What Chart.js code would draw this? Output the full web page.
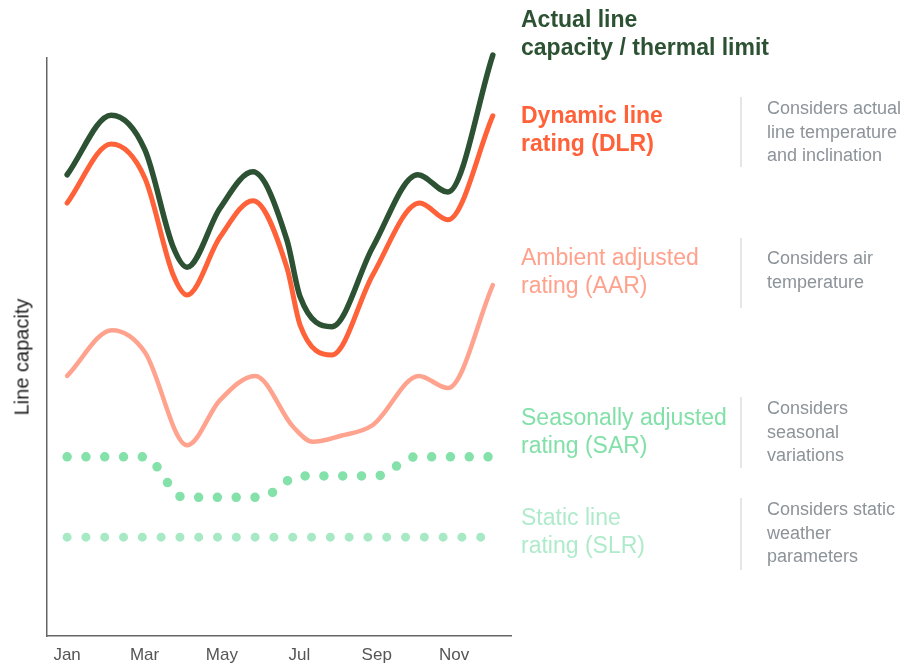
<!DOCTYPE html>
<html>
<head>
<meta charset="utf-8">
<script src="https://cdn.jsdelivr.net/npm/chart.js@4/dist/chart.umd.min.js"></script>
<style>
  html, body { margin: 0; padding: 0; background: #fff; }
  #wrap { position: relative; width: 907px; height: 668px; overflow: hidden; font-family: "Liberation Sans", Arial, sans-serif; }
  canvas { position: absolute; left: 0; top: 0; }
  .lbl { position: absolute; left: 521px; font-size: 23px; line-height: 28px; white-space: nowrap; }
  .desc { position: absolute; left: 767px; font-size: 18px; line-height: 23.5px; color: #8c9399; white-space: nowrap; }
  .sep { position: absolute; left: 740px; width: 2px; background: #e6e6e6; }
  #ytitle { position: absolute; left: 22px; top: 357px; transform: translate(-50%, -50%) rotate(-90deg); font-size: 20px; color: #1e1e1e; white-space: nowrap; }
</style>
</head>
<body>
<div id="wrap">
  <canvas id="c" width="907" height="668"></canvas>
  <div id="ytitle">Line capacity</div>

  <div class="lbl" style="top:5px;color:#2c5233;font-weight:bold;">Actual line<br>capacity / thermal limit</div>

  <div class="lbl" style="top:101px;color:#ff6139;font-weight:bold;">Dynamic line<br>rating (DLR)</div>
  <div class="sep" style="top:97px;height:70px;"></div>
  <div class="desc" style="top:97px;">Considers actual<br>line temperature<br>and inclination</div>

  <div class="lbl" style="top:243px;color:#ffa18c;">Ambient adjusted<br>rating (AAR)</div>
  <div class="sep" style="top:238px;height:70px;"></div>
  <div class="desc" style="top:247px;">Considers air<br>temperature</div>

  <div class="lbl" style="top:403px;color:#82e0a8;">Seasonally adjusted<br>rating (SAR)</div>
  <div class="sep" style="top:397px;height:71px;"></div>
  <div class="desc" style="top:397px;">Considers<br>seasonal<br>variations</div>

  <div class="lbl" style="top:503px;color:#afebcb;">Static line<br>rating (SLR)</div>
  <div class="sep" style="top:498px;height:72px;"></div>
  <div class="desc" style="top:498px;">Considers static<br>weather<br>parameters</div>
</div>
<script>
// Month index positions (0 = Jan ... 11 = Dec) and values (arbitrary capacity units, 0-100)
const monthNames = ["Jan","Feb","Mar","Apr","May","Jun","Jul","Aug","Sep","Oct","Nov","Dec"];
const tickMonths = [0, 2, 4, 6, 8, 10];

const actualX = [0, 1.14, 2.01, 2.74, 3.10, 3.95, 4.80, 5.68, 6.02, 6.84, 7.90, 9.06, 9.84, 11];
const actualY = [79.8, 90.1, 84.1, 67.3, 63.8, 74.0, 80.3, 68.5, 58.7, 53.5, 67.3, 79.8, 76.8, 100.5];

const dlrX = [0, 1.14, 2.01, 2.74, 3.10, 3.95, 4.80, 5.68, 6.02, 6.84, 7.90, 9.11, 9.84, 11];
const dlrY = [74.9, 85.1, 79.2, 62.5, 59.0, 69.0, 75.3, 63.7, 53.8, 48.6, 62.5, 74.9, 72.0, 90.0];

const aarX = [0, 1.16, 2.01, 3.10, 3.95, 4.86, 5.84, 6.35, 7.05, 7.90, 9.09, 9.84, 11];
const aarY = [45.0, 52.9, 49.1, 33.0, 40.8, 45.0, 36.2, 33.6, 34.6, 36.5, 45.0, 42.9, 60.7];

const sarX = [0, 1, 2, 3, 4, 5, 6, 7, 8, 9, 10, 11];
const sarY = [31.0, 31.0, 31.0, 24.0, 24.0, 24.0, 27.7, 27.7, 27.7, 31.0, 31.0, 31.0];

const slrX = [0, 11];
const slrY = [17.1, 17.1];

const pts = (xs, ys) => xs.map((x, i) => ({ x: x, y: ys[i] }));

new Chart(document.getElementById('c'), {
  type: 'line',
  data: {
    datasets: [
      { data: pts(slrX, slrY), borderColor: '#a6e9c4', borderWidth: 9, borderDash: [0, 18.8], borderCapStyle: 'round', pointRadius: 0, tension: 0 },
      { data: pts(sarX, sarY), borderColor: '#84e1a9', borderWidth: 9.5, borderDash: [0, 18.8], borderCapStyle: 'round', pointRadius: 0, cubicInterpolationMode: 'monotone' },
      { data: pts(aarX, aarY), borderColor: '#ffa28e', borderWidth: 4.5, borderCapStyle: 'round', pointRadius: 0, cubicInterpolationMode: 'monotone' },
      { data: pts(dlrX, dlrY), borderColor: '#ff6139', borderWidth: 5, borderCapStyle: 'round', pointRadius: 0, cubicInterpolationMode: 'monotone' },
      { data: pts(actualX, actualY), borderColor: '#2c5233', borderWidth: 5.5, borderCapStyle: 'round', pointRadius: 0, cubicInterpolationMode: 'monotone' }
    ]
  },
  options: {
    responsive: false,
    animation: false,
    clip: false,
    layout: { padding: { top: 58, right: 396, bottom: 0, left: 0 } },
    plugins: { legend: { display: false }, tooltip: { enabled: false } },
    scales: {
      x: {
        type: 'linear',
        min: -0.52,
        max: 11.47,
        grid: { display: false, drawTicks: false },
        border: { display: true, color: '#666', width: 1.5 },
        afterFit: (s) => { s.height = 32; },
        afterBuildTicks: (s) => { s.ticks = tickMonths.map(v => ({ value: v })); },
        ticks: {
          padding: 9,
          color: '#555',
          font: { family: '"Liberation Sans", Arial, sans-serif', size: 17 },
          callback: (v) => monthNames[v],
          maxRotation: 0,
          autoSkip: false
        }
      },
      y: {
        min: 0,
        max: 100,
        grid: { display: false, drawTicks: false },
        border: { display: true, color: '#666', width: 1.5 },
        ticks: { display: false },
        afterFit: (s) => { s.width = 47; }
      }
    }
  }
});
</script>
</body>
</html>
